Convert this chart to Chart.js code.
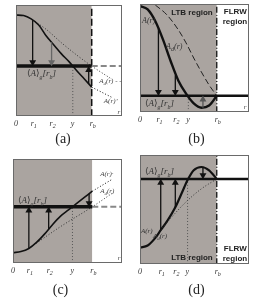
<!DOCTYPE html>
<html>
<head>
<meta charset="utf-8">
<script src="https://cdn.jsdelivr.net/npm/chart.js@4"></script>
<style>
body { margin: 0; background: #fff; width: 253px; height: 302px; position: relative; overflow: hidden; }
canvas { position: absolute; }
</style>
</head>
<body>
<canvas id="pa" width="126" height="151" style="left:0;top:0"></canvas>
<canvas id="pb" width="127" height="151" style="left:126px;top:0"></canvas>
<canvas id="pc" width="126" height="151" style="left:0;top:151px"></canvas>
<canvas id="pd" width="127" height="151" style="left:126px;top:151px"></canvas>
<script>
// r axis: 0 .. r_b = 1, a bit of FLRW space past r_b
const tickText = [['0'], ['r', '_1'], ['r', '_2'], ['y'], ['r', '_b']];
const meanText = ['^\u27e8', 'A', '^\u27e9', '_g', '[r', '_b', ']'];

// panel (a)
const aR = [0, 0.1, 0.2, 0.3, 0.4, 0.5, 0.6, 0.7, 0.8, 0.9, 1.0];
const aA = [0.91, 0.905, 0.875, 0.82, 0.72, 0.64, 0.56, 0.49, 0.41, 0.335, 0.26];
const aTailR = [1.0, 1.26];
const aTail = [0.26, 0.17];
const aAdR = [0.22, 0.4, 0.6, 0.8, 1.0, 1.27];
const aAd = [0.865, 0.78, 0.66, 0.55, 0.45, 0.33];
const aMean = 0.45;
const aTicks = [0, 0.22, 0.47, 0.75, 1];
const aArrowR = [0.22, 0.47, 0.96];
const aArrowFrom = [0.865, 0.664, 0.29];

// panel (b)
const bR = [0, 0.1, 0.2, 0.3, 0.4, 0.5, 0.6, 0.7, 0.8, 0.9, 1.0];
const bA = [0.98, 0.95, 0.84, 0.67, 0.47, 0.29, 0.17, 0.08, 0.04, 0.06, 0.15];
const bAdR = [0.2, 0.35, 0.5, 0.6, 0.7, 0.8, 0.9, 1.0];
const bAd = [0.99, 0.9, 0.76, 0.64, 0.5, 0.37, 0.25, 0.15];
const bMean = 0.15;
const bTicks = [0, 0.24, 0.46, 0.63, 1];
const bArrowR = [0.24, 0.46, 0.82];
const bArrowFrom = [0.77, 0.34, 0.04];

// panel (c)
const cR = [0, 0.1, 0.2, 0.3, 0.4, 0.5, 0.6, 0.7, 0.8, 0.9, 1.0];
const cA = [0.1, 0.11, 0.14, 0.2, 0.28, 0.37, 0.45, 0.51, 0.57, 0.63, 0.69];
const cTailR = [1.0, 1.24];
const cTail = [0.69, 0.8];
const cAdR = [0.2, 0.6, 1.0, 1.25];
const cAd = [0.14, 0.35, 0.54, 0.67];
const cMean = 0.54;
const cTicks = [0, 0.2, 0.45, 0.75, 1];
const cArrowR = [0.2, 0.45, 0.96];
const cArrowFrom = [0.14, 0.325, 0.666];

// panel (d)
const dR = [0, 0.1, 0.2, 0.27, 0.36, 0.46, 0.55, 0.62, 0.7, 0.8, 0.9, 1.0];
const dA = [0.15, 0.17, 0.24, 0.31, 0.40, 0.52, 0.66, 0.77, 0.86, 0.89, 0.86, 0.78];
const dAdR = [0.27, 0.4, 0.6, 0.8, 1.0];
const dAd = [0.31, 0.42, 0.57, 0.69, 0.78];
const dMean = 0.78;
const dTicks = [0, 0.27, 0.46, 0.62, 1];
const dArrowR = [0.27, 0.46, 0.82];
const dArrowFrom = [0.31, 0.52, 0.89];

const RB = 1;
const HEAD = 0.035;
const GRAY = '#aaa4a0';
const SERIF = '"Liberation Serif", "DejaVu Serif", serif';
const SANS = '"Liberation Sans", Arial, sans-serif';

function pts(xs, ys) {
    return xs.map((x, i) => ({ x: x, y: ys[i] }));
}

function line(xs, ys, color, width, dash, order) {
    return {
        data: pts(xs, ys),
        borderColor: color,
        borderWidth: width,
        borderDash: dash || [],
        pointRadius: 0,
        fill: false,
        cubicInterpolationMode: 'monotone',
        order: order || 2
    };
}

function ltbShade() {
    return {
        data: [{ x: 0, y: 1 }, { x: RB, y: 1 }],
        borderWidth: 0,
        pointRadius: 0,
        backgroundColor: GRAY,
        fill: 'start',
        order: 20
    };
}

function arrows(xs, from, to, colors, width) {
    return xs.map((x, i) => {
        let dir = to > from[i] ? 1 : -1;
        return {
            data: [{ x: x, y: from[i] }, { x: x, y: to - dir * HEAD }],
            borderColor: colors[i],
            backgroundColor: colors[i],
            borderWidth: width,
            pointRadius: [0, 4],
            pointStyle: 'triangle',
            pointRotation: dir > 0 ? 0 : 180,
            pointBorderWidth: 0,
            order: 1
        };
    });
}

// '_x' = subscript, '^x' = upright bracket glyph
function rich(ctx, x, y, parts, size, color) {
    ctx.fillStyle = color || '#333';
    ctx.textAlign = 'left';
    ctx.textBaseline = 'alphabetic';
    for (const p of parts) {
        let sub = p[0] === '_';
        let up = p[0] === '^';
        let t = (sub || up) ? p.slice(1) : p;
        if (up) {
            ctx.font = size + 'px "DejaVu Sans", sans-serif';
        } else {
            ctx.font = 'italic ' + (sub ? Math.round(size * 0.7) : size) + 'px ' + SERIF;
        }
        ctx.fillText(t, x, y + (sub ? size * 0.3 : 0));
        x += ctx.measureText(t).width;
    }
}

function boldText(ctx, t, x, y, align) {
    ctx.font = 'bold 8px ' + SANS;
    ctx.fillStyle = '#222';
    ctx.textAlign = align;
    ctx.textBaseline = 'alphabetic';
    ctx.fillText(t, x, y);
}

function makePanel(id, pad, xMax, datasets, ticks, caption, capDx, notes) {
    new Chart(document.getElementById(id), {
        type: 'line',
        data: { datasets: datasets },
        options: {
            responsive: false,
            animation: false,
            layout: { padding: pad },
            plugins: { legend: { display: false }, tooltip: { enabled: false }, title: { display: false } },
            scales: {
                x: { type: 'linear', min: 0, max: xMax, display: false },
                y: { type: 'linear', min: 0, max: 1, display: false }
            }
        },
        plugins: [{
            id: 'deco',
            afterDraw(chart) {
                const ctx = chart.ctx;
                const ca = chart.chartArea;
                const sx = chart.scales.x;
                const sy = chart.scales.y;
                ctx.save();
                ctx.strokeStyle = '#6a6a6a';
                ctx.lineWidth = 1;
                ctx.strokeRect(ca.left + 0.5, ca.top + 0.5, ca.right - ca.left - 1, ca.bottom - ca.top - 1);
                // tick labels under the box
                ticks.forEach((v, i) => {
                    let px = sx.getPixelForValue(v);
                    rich(ctx, px - 2, ca.bottom + 10, tickText[i], 8, '#333');
                });
                ctx.font = '14px ' + SERIF;
                ctx.fillStyle = '#222';
                ctx.textAlign = 'center';
                ctx.fillText(caption, (ca.left + ca.right) / 2 + capDx, ca.bottom + pad.bottom - 8);
                notes(ctx, sx, sy, ca);
                ctx.restore();
            }
        }]
    });
}

// (a)
makePanel('pa', { left: 16, top: 5, right: 3, bottom: 35 }, 1.4, [
    ltbShade(),
    line([RB, RB], [0, 1], '#111', 1.5, [7, 3], 3),
    line([0, RB], [aMean, aMean], '#111', 3.5, [], 2),
    line([RB, 1.4], [aMean, aMean], '#888', 2, [6, 3], 2),
    line([aTicks[3], aTicks[3]], [0, aMean], '#555', 1, [1, 2], 3),
    line(aR, aA, '#111', 1.6, [], 2),
    line(aTailR, aTail, '#111', 1, [1, 2], 2),
    line(aAdR, aAd, '#333', 1, [1, 2], 2),
    ...arrows(aArrowR, aArrowFrom, aMean, ['#111', '#666', '#111'], 1.3)
], aTicks, '(a)', -6, (ctx, sx, sy, ca) => {
    rich(ctx, ca.left + 11, sy.getPixelForValue(aMean) + 10, meanText, 9, '#333');
    rich(ctx, sx.getPixelForValue(1.1), sy.getPixelForValue(0.3), ['A', '_d', '(r) - -'], 7, '#444');
    rich(ctx, sx.getPixelForValue(1.16), sy.getPixelForValue(0.12), ['A(r)\u2019'], 7, '#444');
    rich(ctx, sx.getPixelForValue(1.34), sy.getPixelForValue(0.02), ['r'], 7, '#444');
});

// (b)
makePanel('pb', { left: 14, top: 3, right: 2, bottom: 39 }, 1.42, [
    ltbShade(),
    line([RB, RB], [0, 1], '#111', 1.3, [6, 2, 1, 2], 3),
    line([0, 1.42], [bMean, bMean], '#111', 2.5, [], 2),
    line([bTicks[3], bTicks[3]], [0, bMean], '#555', 1, [1, 2], 3),
    line(bAdR, bAd, '#222', 1, [6, 3], 2),
    line(bR, bA, '#111', 2.4, [], 2),
    ...arrows(bArrowR, bArrowFrom, bMean, ['#111', '#111', '#555'], 1.3)
], bTicks, '(b)', 2, (ctx, sx, sy, ca) => {
    boldText(ctx, 'LTB region', sx.getPixelForValue(RB) - 4, ca.top + 11, 'right');
    boldText(ctx, 'FLRW', sx.getPixelForValue(RB) + 7, ca.top + 10, 'left');
    boldText(ctx, 'region', sx.getPixelForValue(RB) + 6, ca.top + 20, 'left');
    rich(ctx, ca.left + 2, ca.top + 19, ['A(r)'], 8, '#333');
    rich(ctx, sx.getPixelForValue(0.34), ca.top + 45, ['A', '_d', '(r)'], 8, '#333');
    rich(ctx, ca.left + 5, sy.getPixelForValue(bMean) + 10, meanText, 9, '#333');
    rich(ctx, sx.getPixelForValue(1.35), sy.getPixelForValue(0.03), ['r'], 7, '#444');
});

// (c)
makePanel('pc', { left: 13, top: 8, right: 3, bottom: 39 }, 1.375, [
    ltbShade(),
    line([0, RB], [cMean, cMean], '#111', 3.5, [], 2),
    line([RB, 1.375], [cMean, cMean], '#888', 2, [6, 3], 2),
    line([cTicks[3], cTicks[3]], [0, cMean], '#555', 1, [1, 2], 3),
    line(cR, cA, '#111', 1.6, [], 2),
    line(cTailR, cTail, '#111', 1, [1, 2], 2),
    line(cAdR, cAd, '#333', 1, [1, 2], 2),
    ...arrows(cArrowR, cArrowFrom, cMean, ['#111', '#111', '#111'], 1.3)
], cTicks, '(c)', -7, (ctx, sx, sy, ca) => {
    rich(ctx, ca.left + 5, sy.getPixelForValue(cMean) - 4, meanText, 9, '#333');
    rich(ctx, sx.getPixelForValue(1.1), sy.getPixelForValue(0.84), ['A(r)\u00b7'], 7, '#444');
    rich(ctx, sx.getPixelForValue(1.1), sy.getPixelForValue(0.67), ['A', '_d', '(r)'], 7, '#444');
    rich(ctx, sx.getPixelForValue(1.32), sy.getPixelForValue(0.03), ['r'], 7, '#444');
});

// (d)
makePanel('pd', { left: 14, top: 1, right: 2, bottom: 38 }, 1.42, [
    ltbShade(),
    line([RB, RB], [0, 1], '#111', 1.3, [6, 2, 1, 2], 3),
    line([0, 1.42], [dMean, dMean], '#111', 2.5, [], 2),
    line([dTicks[3], dTicks[3]], [0, dMean], '#555', 1, [1, 2], 3),
    line(dAdR, dAd, '#333', 1, [1, 2], 2),
    line(dR, dA, '#111', 2.2, [], 2),
    ...arrows(dArrowR, dArrowFrom, dMean, ['#111', '#111', '#111'], 1.3)
], dTicks, '(d)', 2, (ctx, sx, sy, ca) => {
    rich(ctx, ca.left + 5, sy.getPixelForValue(dMean) - 5, meanText, 9, '#333');
    rich(ctx, ca.left + 1, sy.getPixelForValue(0.28), ['A(r)'], 7, '#333');
    rich(ctx, ca.left + 13, sy.getPixelForValue(0.24), ['A', '_d', '(r)'], 7, '#333');
    boldText(ctx, 'LTB region', sx.getPixelForValue(RB) - 4, ca.bottom - 4, 'right');
    boldText(ctx, 'FLRW', sx.getPixelForValue(RB) + 7, ca.bottom - 13, 'left');
    boldText(ctx, 'region', sx.getPixelForValue(RB) + 6, ca.bottom - 3, 'left');
});
</script>
</body>
</html>
